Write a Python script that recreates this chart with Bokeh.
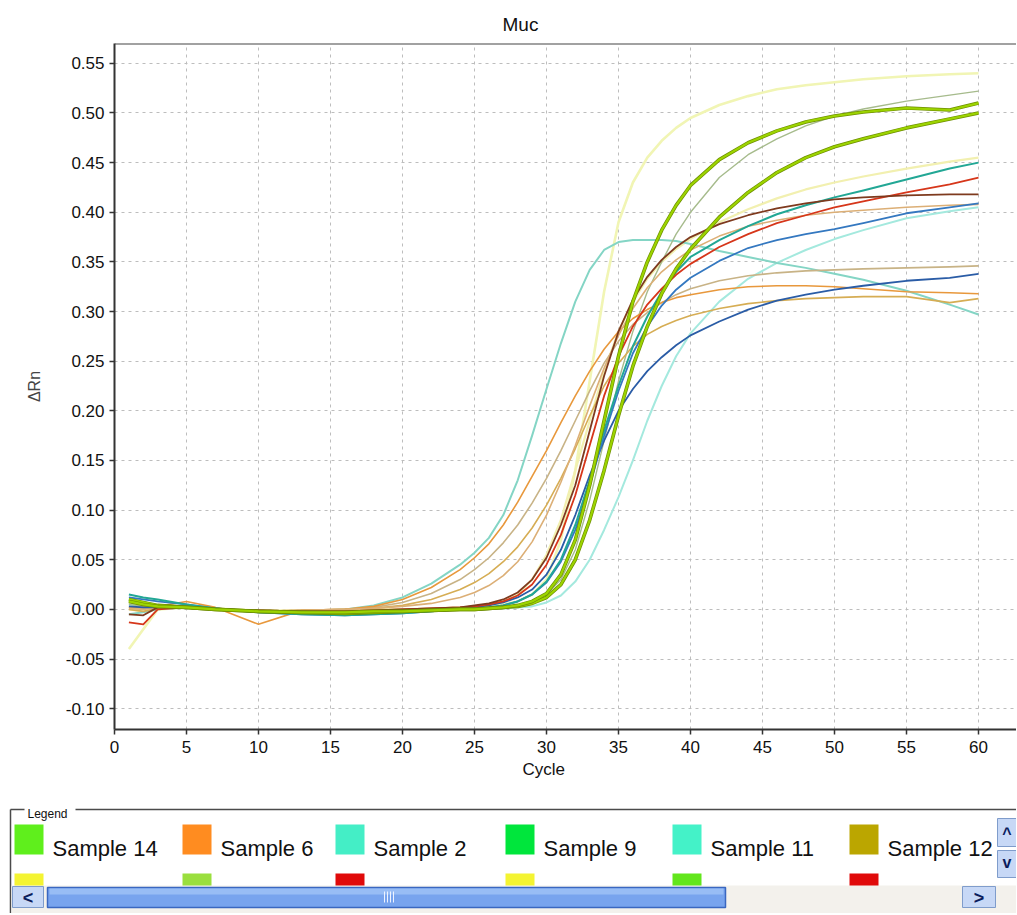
from bokeh.plotting import figure
from bokeh.models import Range1d, FixedTicker, Span, Title, PrintfTickFormatter
from bokeh.embed import file_html
from bokeh.resources import INLINE
from bokeh.core.properties import value

# ---------------- data ----------------
CYCLES = [1, 2, 3, 5, 7, 10, 13, 16, 18, 20, 22, 24, 25, 26, 27, 28, 29, 30, 31, 32,
          33, 34, 35, 36, 37, 38, 39, 40, 42, 44, 46, 48, 50, 52, 55, 58, 60]

CURVE_A = [-0.040, -0.020, 0.000, 0.002, 0.000, -0.002, -0.002, -0.002, 0.000, 0.000,
           0.000, 0.001, 0.002, 0.003, 0.005, 0.008, 0.015, 0.030, 0.070, 0.140,
           0.230, 0.320, 0.390, 0.430, 0.455, 0.472, 0.485, 0.495, 0.508, 0.517,
           0.524, 0.528, 0.531, 0.534, 0.537, 0.539, 0.540]
CURVE_B = [0.005, 0.003, 0.002, 0.001, 0.000, -0.002, -0.003, -0.003, -0.002, -0.001,
           0.000, 0.000, 0.001, 0.001, 0.002, 0.004, 0.008, 0.015, 0.030, 0.060,
           0.110, 0.170, 0.230, 0.280, 0.320, 0.350, 0.378, 0.400, 0.435, 0.458,
           0.474, 0.487, 0.497, 0.504, 0.512, 0.518, 0.522]
CURVE_C = [0.008, 0.005, 0.003, 0.002, 0.000, -0.002, -0.003, -0.003, -0.002, -0.002,
           -0.001, 0.000, 0.000, 0.001, 0.002, 0.004, 0.008, 0.016, 0.035, 0.070,
           0.125, 0.190, 0.255, 0.310, 0.350, 0.382, 0.407, 0.427, 0.453, 0.470,
           0.482, 0.491, 0.497, 0.501, 0.505, 0.503, 0.510]
CURVE_D = [0.010, 0.007, 0.004, 0.002, 0.000, -0.002, -0.003, -0.004, -0.003, -0.002,
           -0.001, 0.000, 0.000, 0.001, 0.002, 0.003, 0.006, 0.012, 0.025, 0.050,
           0.090, 0.140, 0.195, 0.245, 0.285, 0.318, 0.343, 0.363, 0.395, 0.420,
           0.440, 0.455, 0.466, 0.474, 0.485, 0.494, 0.500]
CURVE_E = [0.000, -0.002, 0.000, 0.003, 0.001, -0.001, -0.001, -0.001, 0.000, 0.000,
           0.001, 0.002, 0.003, 0.005, 0.008, 0.015, 0.030, 0.055, 0.090, 0.140,
           0.190, 0.240, 0.280, 0.310, 0.333, 0.350, 0.363, 0.373, 0.390, 0.403,
           0.414, 0.423, 0.430, 0.436, 0.444, 0.451, 0.455]
CURVE_F = [0.015, 0.012, 0.010, 0.005, 0.001, -0.003, -0.005, -0.006, -0.005, -0.004,
           -0.002, 0.000, 0.001, 0.002, 0.004, 0.008, 0.015, 0.028, 0.050, 0.085,
           0.130, 0.180, 0.225, 0.265, 0.295, 0.320, 0.340, 0.355, 0.372, 0.386,
           0.398, 0.407, 0.415, 0.422, 0.433, 0.444, 0.450]
CURVE_G = [-0.013, -0.015, 0.000, 0.002, 0.000, -0.001, -0.002, -0.002, -0.001, 0.000,
           0.001, 0.002, 0.003, 0.005, 0.008, 0.014, 0.025, 0.045, 0.075, 0.115,
           0.165, 0.215, 0.255, 0.285, 0.307, 0.323, 0.337, 0.348, 0.365, 0.378,
           0.389, 0.397, 0.405, 0.411, 0.420, 0.428, 0.435]
CURVE_H = [-0.005, -0.006, 0.002, 0.002, 0.000, -0.001, -0.002, -0.002, -0.001, 0.000,
           0.001, 0.002, 0.004, 0.006, 0.010, 0.017, 0.030, 0.052, 0.085, 0.125,
           0.180, 0.235, 0.280, 0.312, 0.335, 0.352, 0.365, 0.375, 0.388, 0.397,
           0.404, 0.409, 0.413, 0.415, 0.417, 0.418, 0.418]
CURVE_I = [0.012, 0.010, 0.008, 0.005, 0.001, -0.003, -0.005, -0.006, -0.005, -0.004,
           -0.002, 0.000, 0.001, 0.002, 0.004, 0.008, 0.015, 0.027, 0.048, 0.080,
           0.125, 0.175, 0.220, 0.258, 0.285, 0.306, 0.322, 0.334, 0.351, 0.364,
           0.372, 0.378, 0.383, 0.389, 0.399, 0.405, 0.409]
CURVE_J = [0.003, 0.002, 0.002, 0.003, 0.001, -0.002, -0.004, -0.005, -0.004, -0.003,
           -0.001, 0.001, 0.002, 0.004, 0.007, 0.012, 0.020, 0.035, 0.060, 0.095,
           0.135, 0.170, 0.200, 0.222, 0.240, 0.254, 0.266, 0.276, 0.290, 0.302,
           0.311, 0.317, 0.322, 0.326, 0.331, 0.334, 0.338]
CURVE_K = [0.005, 0.003, 0.002, 0.002, 0.000, -0.002, -0.003, -0.004, -0.003, -0.002,
           -0.001, 0.000, 0.000, 0.001, 0.001, 0.002, 0.003, 0.007, 0.014, 0.028,
           0.050, 0.080, 0.113, 0.150, 0.190, 0.225, 0.255, 0.278, 0.310, 0.333,
           0.349, 0.362, 0.373, 0.382, 0.394, 0.401, 0.405]
CURVE_L = [-0.005, -0.003, 0.000, 0.002, 0.000, -0.002, -0.002, 0.000, 0.004, 0.012,
           0.026, 0.045, 0.057, 0.072, 0.095, 0.130, 0.175, 0.222, 0.268, 0.310,
           0.342, 0.362, 0.370, 0.372, 0.372, 0.372, 0.371, 0.368, 0.361, 0.355,
           0.349, 0.344, 0.338, 0.332, 0.321, 0.307, 0.297]
CURVE_M = [0.002, 0.001, 0.001, 0.004, 0.001, -0.003, -0.001, 0.000, 0.002, 0.007,
           0.016, 0.030, 0.040, 0.052, 0.067, 0.085, 0.107, 0.132, 0.160, 0.190,
           0.220, 0.248, 0.270, 0.287, 0.299, 0.309, 0.317, 0.323, 0.331, 0.336,
           0.339, 0.341, 0.342, 0.343, 0.344, 0.345, 0.346]
CURVE_N = [0.002, 0.002, 0.003, 0.008, 0.002, -0.015, -0.001, 0.000, 0.003, 0.010,
           0.022, 0.040, 0.052, 0.066, 0.085, 0.108, 0.134, 0.160, 0.188, 0.215,
           0.240, 0.262, 0.280, 0.293, 0.302, 0.309, 0.314, 0.317, 0.322, 0.325,
           0.326, 0.326, 0.325, 0.323, 0.320, 0.319, 0.318]
CURVE_O = [0.000, -0.002, 0.001, 0.004, 0.001, -0.002, -0.001, 0.000, 0.001, 0.004,
           0.010, 0.020, 0.027, 0.036, 0.048, 0.063, 0.082, 0.105, 0.132, 0.162,
           0.195, 0.225, 0.248, 0.265, 0.277, 0.285, 0.291, 0.296, 0.303, 0.308,
           0.311, 0.313, 0.314, 0.315, 0.315, 0.309, 0.313]
CURVE_P = [0.001, 0.000, 0.002, 0.004, 0.001, -0.002, -0.001, 0.000, 0.001, 0.003,
           0.006, 0.012, 0.017, 0.024, 0.034, 0.048, 0.068, 0.095, 0.128, 0.165,
           0.205, 0.243, 0.276, 0.303, 0.324, 0.340, 0.352, 0.362, 0.376, 0.386,
           0.392, 0.397, 0.400, 0.402, 0.405, 0.407, 0.408]

X_TICKS = [0, 5, 10, 15, 20, 25, 30, 35, 40, 45, 50, 55, 60]
Y_TICKS = [-0.10, -0.05, 0.00, 0.05, 0.10, 0.15, 0.20, 0.25, 0.30, 0.35, 0.40, 0.45, 0.50, 0.55]

LEGEND_ROW1 = ["Sample 14", "Sample 6", "Sample 2", "Sample 9", "Sample 11", "Sample 12"]
LEGEND_ROW1_COLORS = ["#5FEF1C", "#FF8C20", "#44EEC6", "#00E63C", "#44F2C8", "#BBA600"]
LEGEND_ROW2 = ["Sample 4", "Sample 3", "Sample 10", "Sample 16", "Sample 5", "Sample 7"]
LEGEND_ROW2_COLORS = ["#F4F432", "#9ADF3E", "#E00A0A", "#F4F432", "#62E61C", "#E00A0A"]

FONT = "Liberation Sans"
W = 1016

# ---------------- main chart ----------------
p = figure(width=W, height=783,
           x_range=Range1d(0, (W - 114) / 14.4), y_range=Range1d(-0.121, 0.570),
           output_backend="svg", toolbar_location=None,
           min_border_left=114, min_border_right=0, min_border_top=43, min_border_bottom=54,
           background_fill_color="white", border_fill_color="white")
p.outline_line_color = None

p.title.text = "Muc"
p.title.align = "left"
p.title.offset = 388
p.title.standoff = 18
p.title.text_font = FONT
p.title.text_font_size = "19px"
p.title.text_font_style = "normal"
p.title.text_color = "#111111"

for ax in (p.xaxis, p.yaxis):
    ax.axis_line_color = "#333333"
    ax.axis_line_width = 2
    ax.major_tick_line_color = "#333333"
    ax.major_tick_line_width = 1.5
    ax.major_tick_out = 5
    ax.major_tick_in = 0
    ax.minor_tick_line_color = None
    ax.major_label_text_font = FONT
    ax.major_label_text_font_size = "17px"
    ax.major_label_text_color = "#111111"

p.xaxis.ticker = FixedTicker(ticks=X_TICKS)
p.yaxis.ticker = FixedTicker(ticks=Y_TICKS)
p.yaxis.formatter = PrintfTickFormatter(format="%.2f")
p.xaxis.major_label_standoff = 6
p.yaxis.major_label_standoff = 5

p.yaxis.axis_label = "ΔRn"
p.yaxis.axis_label_text_font = FONT
p.yaxis.axis_label_text_font_size = "16px"
p.yaxis.axis_label_text_font_style = "normal"
p.yaxis.axis_label_standoff = 20

p.add_layout(Title(text="Cycle", align="left", offset=408, text_font=FONT,
                   text_font_size="17px", text_font_style="normal",
                   text_color="#111111", standoff=4), "below")

p.xgrid.grid_line_color = "#BDBDBD"
p.ygrid.grid_line_color = "#BDBDBD"
p.xgrid.grid_line_dash = "3 4"
p.ygrid.grid_line_dash = "3 4"

p.add_layout(Span(location=0.570, dimension="width", line_color="#444444", line_width=2))

styles = [
    (CURVE_A, "#F1F5B4", 2.6, None),
    (CURVE_E, "#F2F0B0", 2.2, None),
    (CURVE_K, "#A4E9DE", 2.0, None),
    (CURVE_L, "#84D5C5", 2.0, None),
    (CURVE_B, "#A6BB8C", 1.4, None),
    (CURVE_M, "#C8B386", 1.6, None),
    (CURVE_N, "#E8983C", 1.6, None),
    (CURVE_O, "#D6AD54", 1.6, None),
    (CURVE_P, "#DCAF76", 1.6, None),
    (CURVE_J, "#2A5CA6", 1.8, None),
    (CURVE_I, "#3478C0", 1.8, None),
    (CURVE_F, "#22A795", 2.0, None),
    (CURVE_G, "#D6361A", 1.8, None),
    (CURVE_H, "#7E3A1E", 1.8, None),
    (CURVE_D, "#9CD400", 2.2, "#6E8E00"),
    (CURVE_C, "#9CD400", 2.2, "#6E8E00"),
]
for ys, col, w, under in styles:
    if under:
        p.line(CYCLES, ys, line_color=under, line_width=w + 1.4, line_join="round")
    p.line(CYCLES, ys, line_color=col, line_width=w, line_join="round")

# ---------------- legend panel (pixel-like coordinates, own root) ----------------
q = figure(width=W, height=130, x_range=Range1d(0, W), y_range=Range1d(913, 783),
           output_backend="svg", toolbar_location=None, min_border=0,
           min_border_left=0, min_border_right=0, min_border_top=0, min_border_bottom=0,
           x_axis_type=None, y_axis_type=None,
           background_fill_color="white", border_fill_color="white")
q.outline_line_color = None
q.grid.visible = False

# group box
q.segment(x0=[10, 75], y0=[809, 809], x1=[24, W], y1=[809, 809], line_color="#4A4A4A", line_width=1.5)
q.segment(x0=[10], y0=[809], x1=[10], y1=[913], line_color="#4A4A4A", line_width=1.5)
q.text(x=[27], y=[813], text=["Legend"], text_font=value(FONT), text_font_size=value("12px"),
       text_baseline="alphabetic", text_color="#111111")

col_x = [14, 182, 335, 505, 672, 849]
sw = 29
row_top = [824, 873]
for r, (names, cols) in enumerate([(LEGEND_ROW1, LEGEND_ROW1_COLORS), (LEGEND_ROW2, LEGEND_ROW2_COLORS)]):
    top = row_top[r]
    q.quad(left=col_x, right=[c + sw for c in col_x], top=[top] * 6, bottom=[top + 30] * 6,
           fill_color=cols, line_color=None)
    q.text(x=[c + sw + 9 for c in col_x], y=[top + 24] * 6, text=names,
           text_font=value(FONT), text_font_size=value("22px"),
           text_baseline="alphabetic", text_color="#111111")

# horizontal scrollbar
q.quad(left=[11], right=[W], top=[885], bottom=[913], fill_color="#F3F1EC", line_color=None)
q.quad(left=[12, 962], right=[43, 995], top=[886, 886], bottom=[907, 907],
       fill_color="#C7D8F6", line_color="#7F9CCB", line_width=1)
q.quad(left=[47], right=[725], top=[887], bottom=[907], fill_color="#78A4EE",
       line_color="#3A67C0", line_width=1.5)
q.quad(left=[49], right=[723], top=[888], bottom=[894], fill_color="#98BDF5", line_color=None)
q.segment(x0=[384, 387, 390, 393], y0=[891] * 4, x1=[384, 387, 390, 393], y1=[902] * 4,
          line_color="#EEF3FF", line_width=1)
q.text(x=[27.5, 978.5], y=[897, 897], text=["<", ">"], text_font=value(FONT),
       text_font_size=value("18px"), text_font_style="bold", text_align="center",
       text_baseline="middle", text_color="#0B1C5C")
# vertical scroll buttons
q.quad(left=[997, 997], right=[W, W], top=[818, 850], bottom=[846, 877],
       fill_color="#C7D8F6", line_color="#7F9CCB", line_width=1)
q.text(x=[1006.5, 1006.5], y=[833, 862], text=["^", "v"], text_font=value(FONT),
       text_font_size=value("16px"), text_font_style="bold", text_align="center",
       text_baseline="middle", text_color="#0B1C5C")

open("out.html", "w").write(file_html([p, q], INLINE))
